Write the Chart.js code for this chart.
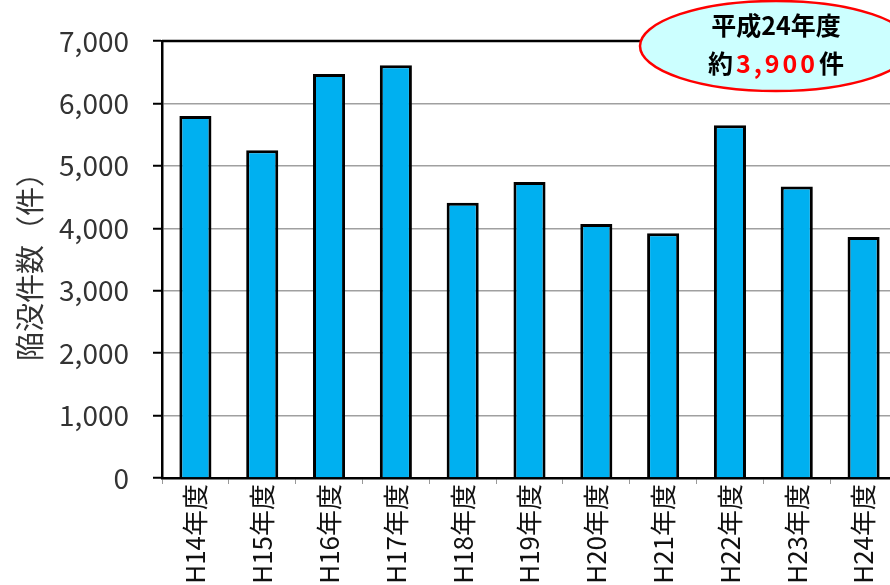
<!DOCTYPE html>
<html>
<head>
<meta charset="utf-8">
<script src="https://cdn.jsdelivr.net/npm/chart.js@4"></script>
<style>
  html, body { margin: 0; padding: 0; background: #fff; overflow: hidden; }
  #wrap { position: absolute; left: 0; top: 0; width: 910px; height: 585px; }
</style>
</head>
<body>
<div id="wrap"><canvas id="grafica"></canvas></div>
<script>
// datos del grafico
var categorias = ['H14年度', 'H15年度', 'H16年度', 'H17年度', 'H18年度', 'H19年度',
                  'H20年度', 'H21年度', 'H22年度', 'H23年度', 'H24年度'];
var hundimientos = [5800, 5250, 6470, 6610, 4410, 4740, 4070, 3920, 5650, 4670, 3860];
var eje_y_min = 0;
var eje_y_max = 7000;
var eje_y_paso = 1000;
var titulo_y = '陥没件数（件）';
var nota_linea1 = '平成24年度';
var nota_antes = '約';
var nota_numero = '3,900';
var nota_despues = '件';

var fuente = '"Noto Sans CJK JP", "Noto Sans", sans-serif';

// borde superior y globo de nota
var nota_plugin = {
    id: 'nota',
    afterDraw: function(chart) {
        var ctx = chart.ctx;
        var area = chart.chartArea;
        ctx.save();
        ctx.beginPath();
        ctx.moveTo(area.left, area.top);
        ctx.lineTo(area.right, area.top);
        ctx.lineWidth = 2.5;
        ctx.strokeStyle = '#000';
        ctx.stroke();

        var cx = 776, cy = 46;
        ctx.beginPath();
        ctx.ellipse(cx, cy, 136, 45, 0, 0, Math.PI * 2);
        ctx.fillStyle = '#ccffff';
        ctx.fill();
        ctx.lineWidth = 2.5;
        ctx.strokeStyle = '#ff0000';
        ctx.stroke();

        ctx.textBaseline = 'middle';
        ctx.textAlign = 'center';
        ctx.fillStyle = '#000';
        ctx.font = 'bold 25px ' + fuente;
        ctx.fillText(nota_linea1, cx, 25);

        // segunda linea con el numero en rojo
        ctx.textAlign = 'left';
        ctx.font = 'bold 25px ' + fuente;
        var w1 = ctx.measureText(nota_antes).width;
        var w3 = ctx.measureText(nota_despues).width;
        ctx.letterSpacing = '3px';
        var w2 = ctx.measureText(nota_numero).width;
        ctx.letterSpacing = '0px';
        var x = cx - (w1 + w2 + w3 + 4) / 2;
        ctx.fillText(nota_antes, x, 63);
        x += w1 + 3;
        ctx.fillStyle = '#ff0000';
        ctx.letterSpacing = '3px';
        ctx.fillText(nota_numero, x, 63);
        ctx.letterSpacing = '0px';
        x += w2 + 1;
        ctx.fillStyle = '#000';
        ctx.fillText(nota_despues, x, 63);
        ctx.restore();
    }
};

var ctx = document.getElementById('grafica');
var myChart = new Chart(ctx, {
    type: 'bar',
    data: {
        labels: categorias,
        datasets: [{
            data: hundimientos,
            backgroundColor: '#00b0f0',
            borderColor: '#000',
            borderWidth: 3,
            barPercentage: 0.48,
            categoryPercentage: 1
        }]
    },
    options: {
        responsive: true,
        maintainAspectRatio: false,
        animation: false,
        layout: { padding: { top: 41, right: 13, left: 0, bottom: 0 } },
        plugins: {
            legend: { display: false },
            tooltip: { enabled: false }
        },
        scales: {
            x: {
                grid: {
                    display: true,
                    drawOnChartArea: false,
                    offset: true,
                    tickLength: 6,
                    color: '#999'
                },
                border: { color: '#000', width: 2.5 },
                ticks: {
                    minRotation: 90,
                    maxRotation: 90,
                    padding: 0,
                    color: '#111',
                    font: { family: fuente, size: 26 }
                },
                afterFit: function(scale) { scale.height = 107; }
            },
            y: {
                min: eje_y_min,
                max: eje_y_max,
                grid: {
                    color: '#a0a0a0',
                    lineWidth: 1.5,
                    tickColor: '#000',
                    tickLength: 9,
                    tickWidth: 2
                },
                border: { color: '#000', width: 2.5 },
                ticks: {
                    stepSize: eje_y_paso,
                    padding: 24,
                    color: '#333',
                    font: { family: fuente, size: 28 },
                    callback: function(v) { return v.toLocaleString('en-US'); }
                },
                title: {
                    display: true,
                    text: titulo_y,
                    color: '#333',
                    padding: { top: 13, bottom: 0 },
                    font: { family: fuente, size: 29 }
                },
                afterFit: function(scale) { scale.width = 162; }
            }
        }
    },
    plugins: [nota_plugin]
});
</script>
</body>
</html>
